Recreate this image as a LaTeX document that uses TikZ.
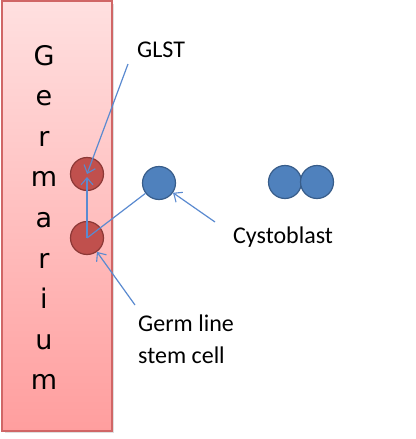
\documentclass[tikz,border=0pt]{standalone}
\usepackage{fontspec}
\setmainfont{Carlito}
\newfontfamily\germfont{DejaVu Sans}
\usetikzlibrary{arrows.meta}
\definecolor{redfill}{HTML}{C0504D}
\definecolor{redline}{HTML}{8C3836}
\definecolor{bluefill}{HTML}{4F81BD}
\definecolor{blueline}{HTML}{385D8A}
\definecolor{conn}{HTML}{5A8AD0}
\definecolor{rtop}{HTML}{FFE0E0}
\definecolor{rbot}{HTML}{FF9E9E}
\definecolor{rborder}{HTML}{D06666}
\begin{document}
\begin{tikzpicture}[x=1pt,y=-1pt,
  redcell/.style={circle,draw=redline,fill=redfill,line width=1.2pt,minimum size=33pt,inner sep=0pt},
  bluecell/.style={circle,draw=blueline,fill=bluefill,line width=1.2pt,minimum size=33pt,inner sep=0pt},
  conline/.style={draw=conn,line width=1.2pt},
  conarrow/.style={conline,-{Straight Barb[length=7pt,width=12pt,line width=1.1pt]}},
  lbl/.style={font=\fontsize{24}{28}\selectfont,text=black,inner sep=0pt,anchor=base west},
  letter/.style={font=\germfont\fontsize{27}{29}\selectfont,inner sep=0pt,anchor=base}]
\useasboundingbox (0,0) rectangle (415,439);
% germarium
\fill[gray!25] (5,4) rectangle (114,433);
\shade[top color=rtop,bottom color=rbot,draw=rborder,line width=1.2pt] (2,1) rectangle (112,431);
\foreach \ch [count=\i] in {G,e,r,m,a,r,i,u,m}
  \node[letter] (L\i) at (44,{65+40.6*(\i-1)}) {\ch};
% cells
\node[redcell] (gs1) at (87,174) {};
\node[redcell] (gs2) at (87,238) {};
\node[bluecell] (cb) at (159,183) {};
\node[bluecell] (cy1) at (285,182) {};
\node[bluecell] (cy2) at (317,182) {};
% labels
\node[lbl] (glst) at (137,57) {GLST};
\node[lbl] (cystotxt) at (233,243) {Cystoblast};
\node[lbl] (gsc1) at (138,331) {Germ line};
\node[lbl] (gsc2) at (138,363) {stem cell};
\coordinate (glstfoot) at (128,64);
\coordinate (cystofoot) at (215,222);
\coordinate (gscfoot) at (135,305);
% connectors
\draw[conarrow] (glstfoot) -- (gs1.center);
\draw[conarrow] (gs2.center) -- ([yshift=-3pt]gs1.center);
\draw[conline] (cb) -- (gs2.center);
\draw[conarrow] (cystofoot) -- (cb);
\draw[conarrow] (gscfoot) -- (gs2);
\end{tikzpicture}
\end{document}
